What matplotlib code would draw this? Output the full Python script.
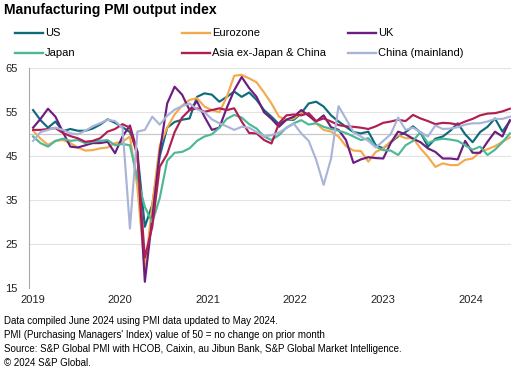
import matplotlib

matplotlib.use("Agg")
import matplotlib.pyplot as plt
from matplotlib.lines import Line2D
import numpy as np

plt.rcParams["font.family"] = ["Liberation Sans", "DejaVu Sans"]

# monthly, Jan 2019 .. May 2024
us = [55.5, 53.2, 51.5, 52.9, 50.7, 51.2, 50.8, 50.8, 51.3, 52.2, 53.4, 52.6,
      51.6, 50.5, 46.0, 29.0, 34.0, 45.0, 51.5, 52.8, 53.3, 53.6, 58.5, 59.3,
      59.0, 57.4, 58.5, 59.7, 58.5, 59.5, 57.8, 55.5, 54.0, 52.3, 53.3, 53.3,
      54.8, 57.0, 57.4, 56.3, 54.3, 52.9, 51.7, 50.5, 50.2, 50.6, 47.5, 46.8,
      48.2, 49.5, 50.5, 51.8, 50.4, 47.2, 49.0, 49.5, 50.8, 52.5, 50.0, 48.2,
      50.5, 51.7, 53.6, 50.6, 53.0]
eurozone = [50.8, 49.0, 47.6, 48.5, 48.7, 48.0, 47.0, 46.3, 46.4, 46.8, 47.0, 48.0,
            48.3, 49.5, 38.0, 19.0, 34.0, 47.5, 51.5, 54.5, 56.5, 57.8, 58.2, 56.3,
            55.5, 55.0, 58.5, 63.3, 63.5, 62.7, 61.8, 59.5, 57.0, 54.0, 53.3, 53.6,
            55.0, 54.5, 52.5, 51.0, 50.6, 49.5, 47.3, 46.3, 46.2, 43.8, 46.0, 46.8,
            48.3, 49.8, 49.1, 49.1, 46.8, 44.9, 42.6, 43.4, 43.0, 43.0, 44.2, 44.5,
            46.0, 46.6, 47.3, 48.3, 49.3]
uk = [51.5, 53.5, 55.8, 54.0, 50.5, 47.2, 47.0, 47.5, 48.0, 48.0, 48.3, 45.7,
      49.5, 52.0, 46.0, 16.5, 31.0, 46.0, 57.0, 60.8, 59.0, 55.5, 57.5, 54.0,
      51.0, 51.5, 56.0, 60.0, 63.0, 60.5, 58.5, 55.0, 53.5, 51.7, 53.3, 54.0,
      55.5, 54.2, 52.9, 54.3, 51.6, 51.0, 48.7, 43.5, 44.3, 44.8, 44.6, 44.5,
      48.0, 50.6, 50.0, 49.0, 48.2, 46.8, 46.0, 44.5, 44.5, 44.3, 48.5, 45.8,
      45.8, 48.3, 50.6, 49.5, 53.2]
japan = [49.5, 48.0, 47.2, 48.5, 49.0, 48.5, 48.7, 48.0, 48.3, 48.5, 48.7, 47.5,
         47.8, 47.5, 40.0, 33.5, 30.0, 35.5, 44.0, 45.8, 46.0, 46.8, 48.5, 49.5,
         50.0, 51.5, 53.5, 54.4, 53.8, 52.3, 51.3, 49.5, 48.7, 49.8, 51.5, 52.5,
         53.2, 52.2, 52.5, 51.7, 51.2, 50.8, 50.3, 49.5, 48.7, 49.1, 47.2, 46.4,
         46.3, 45.3, 47.5, 48.5, 50.5, 48.0, 48.7, 49.0, 48.8, 48.5, 47.5, 46.5,
         47.2, 45.3, 46.5, 48.2, 50.2]
asia_ex = [51.0, 51.0, 51.2, 51.4, 50.3, 49.6, 49.1, 48.3, 48.5, 49.1, 50.6, 51.2,
           52.3, 51.5, 45.0, 22.0, 29.0, 42.6, 45.5, 50.5, 53.8, 55.5, 55.9, 55.1,
           55.5, 55.9, 55.5, 55.9, 52.9, 50.3, 50.2, 48.7, 47.9, 52.5, 54.3, 54.5,
           54.3, 54.8, 53.0, 53.6, 52.9, 52.1, 51.8, 51.7, 51.5, 51.2, 51.8, 52.6,
           52.9, 53.3, 53.0, 54.4, 53.6, 53.0, 52.3, 52.6, 52.5, 52.2, 52.9, 53.5,
           54.3, 54.7, 54.8, 55.2, 55.8]
china = [48.5, 50.5, 51.0, 51.5, 51.0, 50.2, 50.0, 50.8, 51.8, 52.5, 53.3, 53.0,
         51.5, 28.6, 50.6, 51.0, 54.0, 52.2, 54.2, 55.6, 56.4, 57.0, 55.7, 55.0,
         53.4, 52.5, 51.8, 51.0, 51.7, 51.5, 50.5, 49.5, 49.8, 50.4, 51.4, 52.4,
         50.2, 48.5, 44.2, 38.5, 44.5, 56.4, 53.5, 50.5, 49.5, 48.5, 47.0, 48.5,
         50.0, 53.8, 51.0, 51.5, 50.5, 49.5, 52.0, 51.2, 51.3, 51.6, 52.2, 52.5,
         52.5, 52.9, 53.5, 53.5, 54.0]

names = ["US", "Eurozone", "UK", "Japan", "Asia ex-Japan & China", "China (mainland)"]
series = [us, eurozone, uk, japan, asia_ex, china]
colours = ["#0f6a7c", "#f4aa4c", "#6c1d7f", "#4cb896", "#b11f52", "#aab4d8"]
years = ["2019", "2020", "2021", "2022", "2023", "2024"]

fig = plt.figure(figsize=(5.32, 3.77), dpi=100)
ax = fig.add_axes([0.0545, 0.235, 0.906, 0.584])

months = np.arange(len(us))
for vals, c in zip(series, colours):
    ax.plot(months, vals, color=c, lw=1.55, solid_joinstyle="round")

ax.set_ylim(15, 65)
ax.set_xlim(-0.55, 64.15)
ax.set_yticks([15, 25, 35, 45, 55, 65])
ax.set_xticks(np.arange(6) * 11.76 - 0.1)
ax.set_xticklabels(years)
ax.grid(axis="y", color="#e3e3e3", lw=0.8)
ax.axhline(50, color="#c8c8c8", lw=0.9, zorder=0.5)
ax.set_axisbelow(True)
for s in ["top", "right", "bottom"]:
    ax.spines[s].set_visible(False)
ax.spines["left"].set_color("#a8a8a8")
ax.tick_params(length=0, labelsize=8, colors="#222222")
ax.tick_params(axis="x", pad=5)
ax.tick_params(axis="y", pad=8)

W, H = 532, 377
fig.text(4 / W, 1 - 10 / H, "Manufacturing PMI output index", fontsize=10.1,
         fontweight="bold", va="center", ha="left")

# legend, row by row
leg_cols = [15, 182, 348]
leg_rows = [33, 52.5]
for i, (n, c) in enumerate(zip(names, colours)):
    x0 = leg_cols[i % 3]
    y = 1 - leg_rows[i // 3] / H
    fig.add_artist(Line2D([x0 / W, (x0 + 28) / W], [y, y], color=c, lw=1.7,
                          transform=fig.transFigure))
    fig.text((x0 + 30) / W, y, n, fontsize=8, va="center", ha="left")

notes = [
    "Data compiled June 2024 using PMI data updated to May 2024.",
    "PMI (Purchasing Managers' Index) value of 50 = no change on prior month",
    "Source: S&P Global PMI with HCOB, Caixin, au Jibun Bank, S&P Global Market Intelligence.",
    "\u00a9 2024 S&P Global.",
]
for k, t in enumerate(notes):
    fig.text(4 / W, 1 - (320.5 + 14 * k) / H, t, fontsize=7, va="center", ha="left")

fig.savefig("out.png", dpi=100)
plt.close(fig)
